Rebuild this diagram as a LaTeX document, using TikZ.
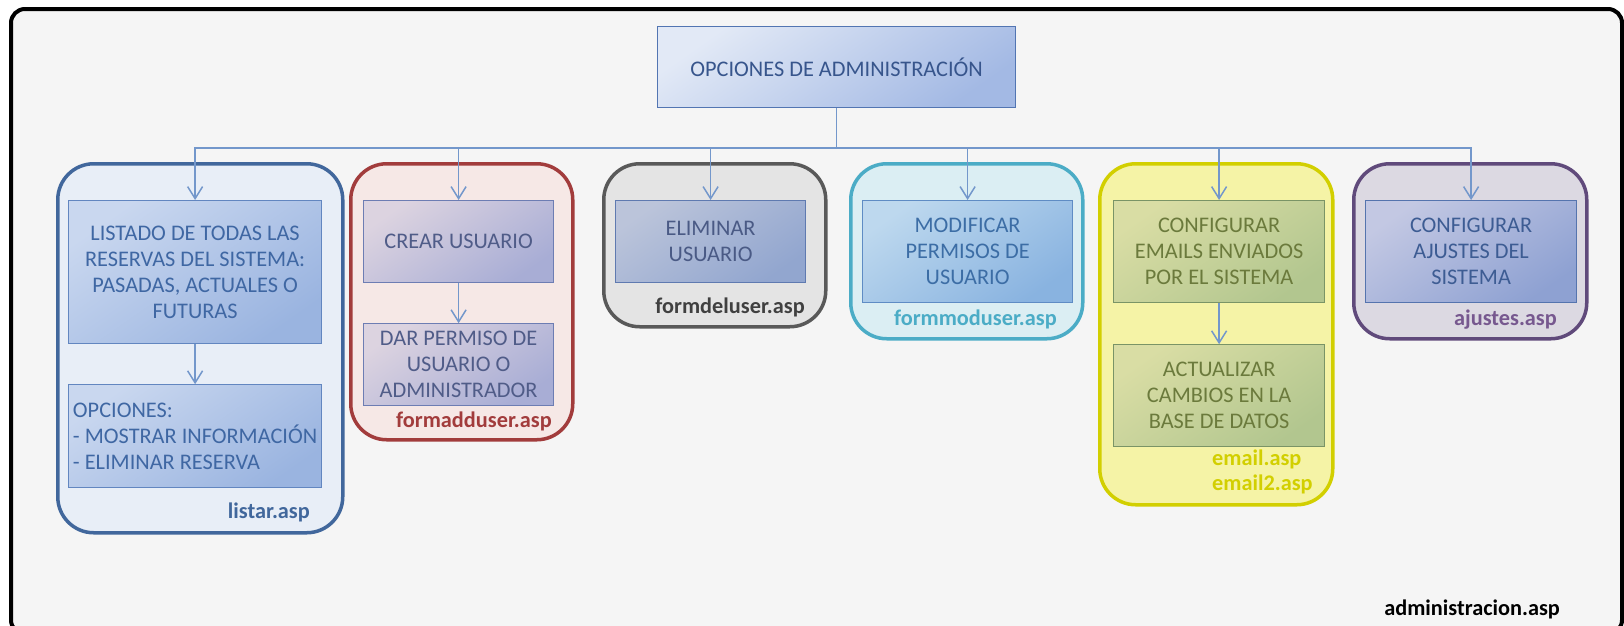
\documentclass[tikz,border=0pt]{standalone}
\usepackage{fontspec}
\setmainfont{Carlito}
\usetikzlibrary{positioning,arrows.meta}

\definecolor{bgfill}{HTML}{F5F5F5}
\definecolor{linkblue}{HTML}{7397CB}
\definecolor{topline}{HTML}{5275B2}
\definecolor{toptext}{HTML}{37558C}
\definecolor{toplight}{HTML}{E2E9F6}
\definecolor{topdark}{HTML}{A3B9E4}
\definecolor{lstline}{HTML}{41679C}
\definecolor{lstfill}{HTML}{E8EEF7}
\definecolor{lstbox}{HTML}{6286C0}
\definecolor{lsttext}{HTML}{3F67A3}
\definecolor{lstlight}{HTML}{C9D7EF}
\definecolor{lstdark}{HTML}{9AB4E0}
\definecolor{addline}{HTML}{A23C3C}
\definecolor{addfill}{HTML}{F6E8E6}
\definecolor{addbox}{HTML}{6D7DB3}
\definecolor{addtext}{HTML}{505C88}
\definecolor{addlight}{HTML}{DCD3E0}
\definecolor{adddark}{HTML}{A8ADD5}
\definecolor{delline}{HTML}{595959}
\definecolor{delfill}{HTML}{E4E4E4}
\definecolor{delbox}{HTML}{5F7AB0}
\definecolor{deltext}{HTML}{4A5A85}
\definecolor{dellight}{HTML}{BBC4DA}
\definecolor{deldark}{HTML}{92A6CF}
\definecolor{modline}{HTML}{4BACC6}
\definecolor{modfill}{HTML}{DBEEF3}
\definecolor{modbox}{HTML}{5F8CC4}
\definecolor{modtext}{HTML}{3C6DA5}
\definecolor{modlight}{HTML}{BDD8EE}
\definecolor{moddark}{HTML}{89B3E0}
\definecolor{mailline}{HTML}{D2CF00}
\definecolor{mailfill}{HTML}{F5F3A6}
\definecolor{mailbox}{HTML}{7A9466}
\definecolor{mailtext}{HTML}{6B7A3C}
\definecolor{maillight}{HTML}{D9DDA4}
\definecolor{maildark}{HTML}{B2C68F}
\definecolor{ajline}{HTML}{604A7B}
\definecolor{ajfill}{HTML}{DCD9E2}
\definecolor{ajbox}{HTML}{5574AE}
\definecolor{ajtext}{HTML}{3D5C93}
\definecolor{ajlabel}{HTML}{77588F}
\definecolor{ajlight}{HTML}{C3C8E3}
\definecolor{ajdark}{HTML}{8EA1D2}

\begin{document}
\begin{tikzpicture}[x=1pt, y=-1pt,
    group/.style={rounded corners=36pt, line width=3.5pt, inner sep=0pt, anchor=north west},
    item/.style={line width=1.2pt, inner sep=0pt, anchor=north west, align=center, font=\fontsize{22.3}{26}\selectfont},
    grad/.style={top color=#1light, bottom color=#1dark, shading angle=35, draw=#1box, text=#1text},
    file/.style={font=\fontsize{22.3}{26}\selectfont\bfseries, inner sep=0pt},
    link/.style={draw=linkblue, line width=1.5pt, -{Straight Barb[length=12pt,width=15pt,line width=1.5pt]}}]

    \clip (0,0) rectangle (1624,625);
    \draw[line width=4pt, rounded corners=14pt, fill=bgfill] (11,9) rectangle (1622,634);

    \node[item, top color=toplight, bottom color=topdark, shading angle=35, draw=topline, text=toptext, minimum width=358pt, minimum height=81pt] (admin) at (657,26) {OPCIONES DE ADMINISTRACIÓN};

    \node[group, draw=lstline, fill=lstfill, minimum width=285pt, minimum height=369pt] (glst) at (56,162) {};
    \node[group, draw=addline, fill=addfill, minimum width=222pt, minimum height=276pt] (gadd) at (349,162) {};
    \node[group, draw=delline, fill=delfill, minimum width=222pt, minimum height=163pt] (gdel) at (602,162) {};
    \node[group, draw=modline, fill=modfill, minimum width=232pt, minimum height=175pt] (gmod) at (849,162) {};
    \node[group, draw=mailline, fill=mailfill, minimum width=233pt, minimum height=341pt] (gmail) at (1098,162) {};
    \node[group, draw=ajline, fill=ajfill, minimum width=233pt, minimum height=175pt] (gaj) at (1352,162) {};

    \node[item, grad=lst, minimum width=253pt, minimum height=143pt] (lst) at (68,200) {LISTADO DE TODAS LAS\\RESERVAS DEL SISTEMA:\\PASADAS, ACTUALES O\\FUTURAS};
    \node[item, grad=lst, minimum width=253pt, minimum height=103pt, align=left, below=40pt of lst] (opc) {OPCIONES:\\- MOSTRAR INFORMACIÓN\\- ELIMINAR RESERVA};
    \node[item, grad=add, minimum width=190pt, minimum height=82pt] (crear) at (363,200) {CREAR USUARIO};
    \node[item, grad=add, minimum width=190pt, minimum height=82pt, below=40pt of crear] (permiso) {DAR PERMISO DE\\USUARIO O\\ADMINISTRADOR};
    \node[item, grad=del, minimum width=190pt, minimum height=82pt] (elim) at (615,200) {ELIMINAR\\USUARIO};
    \node[item, grad=mod, minimum width=210pt, minimum height=102pt] (modif) at (862,200) {MODIFICAR\\PERMISOS DE\\USUARIO};
    \node[item, grad=mail, minimum width=211pt, minimum height=102pt] (emails) at (1113,200) {CONFIGURAR\\EMAILS ENVIADOS\\POR EL SISTEMA};
    \node[item, grad=mail, minimum width=211pt, minimum height=102pt, below=41pt of emails] (cambios) {ACTUALIZAR\\CAMBIOS EN LA\\BASE DE DATOS};
    \node[item, grad=aj, minimum width=211pt, minimum height=102pt] (ajustes) at (1365,200) {CONFIGURAR\\AJUSTES DEL\\SISTEMA};

    \node[file, text=lstline, anchor=base east] (flst) at (310,518) {listar.asp};
    \node[file, text=addline, anchor=base east] (fadd) at (552,427) {formadduser.asp};
    \node[file, text=black!75, anchor=base east] (fdel) at (805,313) {formdeluser.asp};
    \node[file, text=modline, anchor=base east] (fmod) at (1057,325) {formmoduser.asp};
    \node[file, text=mailline, anchor=base west] (fmail) at (1212,465) {email.asp};
    \node[file, text=mailline, anchor=base west] (fmail2) at (1212,490) {email2.asp};
    \node[file, text=ajlabel, anchor=base east] (faj) at (1557,325) {ajustes.asp};
    \node[file, text=black, anchor=base east] (fadmin) at (1560,615) {administracion.asp};

    \coordinate (bus) at (admin.south |- 0,148);
    \draw[link] (admin.south) -- (bus) -| (lst.north);
    \draw[link] (admin.south) -- (bus) -| (crear.north);
    \draw[link] (admin.south) -- (bus) -| (elim.north);
    \draw[link] (admin.south) -- (bus) -| (modif.north);
    \draw[link] (admin.south) -- (bus) -| (emails.north);
    \draw[link] (admin.south) -- (bus) -| (ajustes.north);
    \draw[link] (lst) -- (opc);
    \draw[link] (crear) -- (permiso);
    \draw[link] (emails) -- (cambios);
\end{tikzpicture}
\end{document}
